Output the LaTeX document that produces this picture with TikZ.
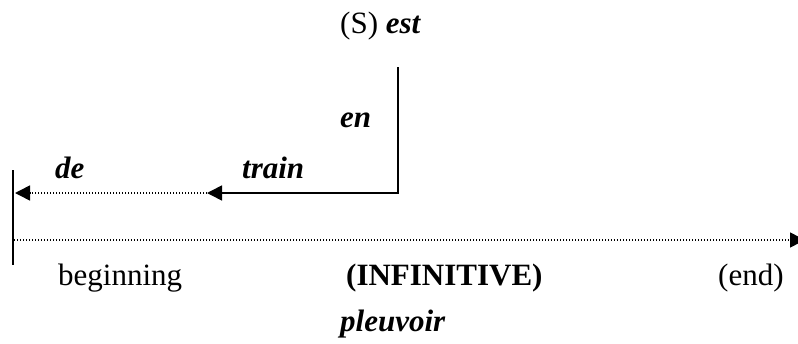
\documentclass[tikz,border=0pt]{standalone}
\usepackage{fontspec}
\setmainfont{Liberation Serif}
\usetikzlibrary{arrows.meta}

\begin{document}
\begin{tikzpicture}[x=1pt, y=-1pt, every node/.style={inner sep=0pt, anchor=base west, font=\fontsize{31}{37}\selectfont},
    word/.style={font=\fontsize{31}{37}\selectfont\bfseries\itshape},
    solidline/.style={line width=1.6pt, -{Triangle[length=15pt,width=15pt]}},
    dotline/.style={line width=1.5pt, dash pattern=on 1.2pt off 1.8pt, -{Triangle[length=15pt,width=15pt]}}]

\useasboundingbox (0,0) rectangle (798,343);

\node (est) at (340,33) {(S) \textbf{\textit{est}}};
\node[word] (en) at (340,127) {en};
\node[word] (de) at (55,178) {de};
\node[word] (train) at (242,178) {train};
\node (beginning) at (58,285) {beginning};
\node (infinitive) at (346,285) {\textbf{(INFINITIVE)}};
\node (end) at (718,285) {(end)};
\node[word] (pleuvoir) at (340,331) {pleuvoir};

\coordinate (top) at (398,67);
\coordinate (corner) at (398,193);
\coordinate (mid) at (207,193);
\coordinate (left) at (15,193);
\coordinate (bartop) at (13,170);
\coordinate (barbot) at (13,265);
\coordinate (start) at (14,240);
\coordinate (stop) at (805,240);

\draw[solidline] (top) -- (corner) -- (mid);
\draw[dotline] (mid) -- (left);
\draw[line width=1.6pt] (bartop) -- (barbot);
\draw[dotline] (start) -- (stop);

\end{tikzpicture}
\end{document}
